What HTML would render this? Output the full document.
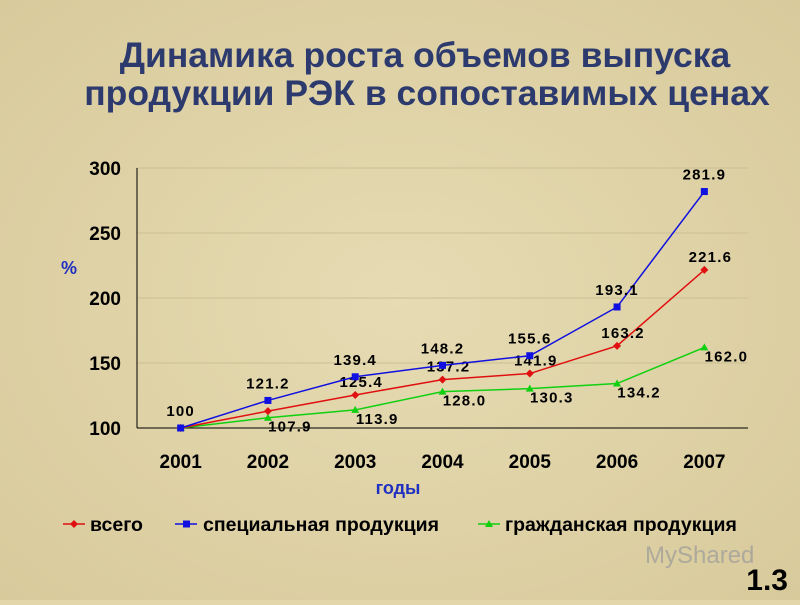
<!DOCTYPE html>
<html><head><meta charset="utf-8"><style>
body{margin:0;width:800px;height:600px;overflow:hidden;background:#e2d6aa;font-family:"Liberation Sans",sans-serif;}
svg text{font-family:"Liberation Sans",sans-serif;}
</style></head><body>
<svg width="800" height="600" xmlns="http://www.w3.org/2000/svg">
<defs><radialGradient id="bg" cx="50%" cy="50%" r="70%"><stop offset="0" stop-color="#e6dbb3"/><stop offset="1" stop-color="#d8ca9b"/></radialGradient></defs>
<rect width="800" height="600" fill="url(#bg)"/>
<g id="title" fill="#2c3a6e" font-weight="bold" font-size="35.5" text-anchor="middle">
<text x="425" y="67">Динамика роста объемов выпуска</text>
<text x="427" y="105">продукции РЭК в сопоставимых ценах</text></g>
<g id="plot"></g>
<text x="69" y="274" fill="#2030c0" font-size="18" font-weight="bold" text-anchor="middle">%</text>
<text x="398" y="494" fill="#2030c0" font-size="18" font-weight="bold" text-anchor="middle">годы</text>
<g font-size="19.5" font-weight="bold" fill="#000">
<g><line x1="63" y1="524" x2="85" y2="524" stroke="#e01010" stroke-width="1.5"/><path d="M74 520l4 4-4 4-4-4z" fill="#e01010"/><text x="90" y="531">всего</text></g>
<g><line x1="175" y1="524" x2="197" y2="524" stroke="#1010e0" stroke-width="1.5"/><rect x="183" y="520.5" width="7" height="7" fill="#1010e0"/><text x="203" y="531">специальная продукция</text></g>
<g><line x1="478" y1="524" x2="500" y2="524" stroke="#10d010" stroke-width="1.5"/><path d="M489 520l4 7h-8z" fill="#10d010"/><text x="505" y="531">гражданская продукция</text></g>
</g>
<text x="645" y="563" fill="#9a9a9a" font-size="24" opacity="0.7">MyShared</text>
<text x="788" y="590" fill="#000" font-size="30" font-weight="bold" text-anchor="end">1.3</text>
</svg>
<script>
const years=["2001","2002","2003","2004","2005","2006","2007"];
const total=[100,113,125.4,137.2,141.9,163.2,221.6];
const special=[100,121.2,139.4,148.2,155.6,193.1,281.9];
const civil=[100,107.9,113.9,128.0,130.3,134.2,162.0];
const totalLabels=["","","125.4","137.2","141.9","163.2","221.6"];
const specialLabels=["100","121.2","139.4","148.2","155.6","193.1","281.9"];
const civilLabels=["","107.9","113.9","128.0","130.3","134.2","162.0"];
const yTicks=[100,150,200,250,300];
const NS="http://www.w3.org/2000/svg";
const g=document.getElementById('plot');
const x0=137,x1=748,yTop=168,yBot=428;
const xs=i=>x0+(i+0.5)*(x1-x0)/years.length;
const ys=v=>yBot-(v-100)/200*(yBot-yTop);
function mk(t,a,p){const e=document.createElementNS(NS,t);for(const k in a)e.setAttribute(k,a[k]);(p||g).appendChild(e);return e;}
yTicks.forEach(v=>{
 if(v>100){const l=mk('line',{x1:x0,x2:x1,y1:ys(v),y2:ys(v),stroke:'#cbbf95','stroke-width':1});
 
 }
 const t=mk('text',{x:121,y:ys(v)+7,'text-anchor':'end','font-size':19,'font-weight':'bold'});t.textContent=v;
 
 
});
mk('line',{x1:x0,x2:x0,y1:yTop,y2:yBot,stroke:'#000'});
mk('line',{x1:x0,x2:x1,y1:yBot,y2:yBot,stroke:'#000'});
years.forEach((y,i)=>{
 const t=mk('text',{x:xs(i),y:468,'text-anchor':'middle','font-size':19,'font-weight':'bold'});t.textContent=y;
 
 
});
function series(d,labels,col,name,shape,dx,dy){
 const pts=d.map((v,i)=>xs(i)+','+ys(v)).join(' ');
 const pl=mk('polyline',{points:pts,fill:'none',stroke:col,'stroke-width':1.5});
 
 
 d.forEach((v,i)=>{
  const X=xs(i),Y=ys(v);let m;
  if(shape==='d')m=mk('path',{d:`M${X} ${Y-4}l4 4-4 4-4-4z`,fill:col});
  else if(shape==='s')m=mk('rect',{x:X-3.5,y:Y-3.5,width:7,height:7,fill:col});
  else m=mk('path',{d:`M${X} ${Y-4}l4 7h-8z`,fill:col});
  
  
  if(labels[i]){const t=mk('text',{x:X+dx,y:Y+dy,'text-anchor':'middle','font-size':15,'font-weight':'bold','letter-spacing':'1.2'});t.textContent=labels[i];
  
  }
 });
}
series(civil,civilLabels,'#10d010','civil','t',22,14);
series(total,totalLabels,'#e01010','total','d',6,-8);
series(special,specialLabels,'#1010e0','special','s',0,-12);
</script>
</body></html>
